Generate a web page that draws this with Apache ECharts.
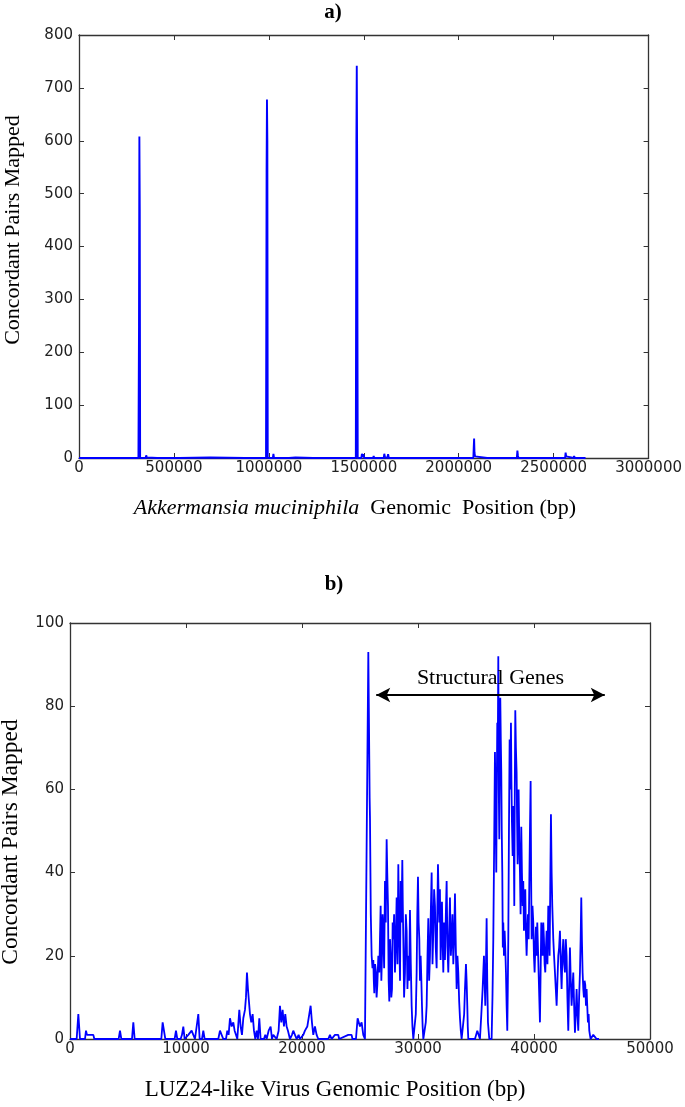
<!DOCTYPE html>
<html><head><meta charset="utf-8">
<script src="https://cdn.jsdelivr.net/npm/echarts@6/dist/echarts.min.js"></script>
<style>html,body{margin:0;padding:0;background:#fff}#c{width:685px;height:1107px}</style>
</head><body><div id="c"></div>
<script>
// ---- Panel a) Akkermansia muciniphila genome: [position bp, concordant pairs]
const akkermansiaCoverage = [
[0,0],[10000,1],[15000,0],[18000,3],[21000,0],[60000,0],[63000,1],[66000,0],[110000,0],[113000,3],[116000,0],
[186000,0],[189000,2],[192000,0],[227000,0],[230000,3],[233000,0],[313000,0],[316000,250],[318000,608],[320000,470],[322000,0],
[351000,0],[354000,5],[357000,1],[360000,0],[412000,0],[415000,2],[418000,0],[530000,0],[533000,1],[536000,0],[690000,1],[693000,0],
[873000,0],[876000,3],[879000,0],[985000,0],[988000,540],[990000,678],[992000,600],[994000,0],[1000000,2],[1003000,0],
[1021000,0],[1024000,8],[1027000,0],[1106000,0],[1109000,2],[1112000,0],[1140000,1],[1143000,0],[1233000,0],[1236000,3],[1239000,0],
[1307000,0],[1310000,3],[1313000,0],[1378000,0],[1381000,2],[1384000,0],[1418000,0],[1421000,3],[1424000,0],
[1458000,0],[1461000,595],[1463000,742],[1465000,560],[1468000,0],[1487000,0],[1490000,8],[1494000,2],[1498000,7],[1502000,0],
[1519000,0],[1522000,3],[1525000,0],[1549000,0],[1552000,4],[1555000,0],[1605000,0],[1608000,8],[1612000,1],[1624000,0],[1628000,7],[1632000,0],
[1700000,0],[1703000,1],[1706000,0],[1800000,0],[1803000,3],[1806000,0],[1865000,0],[1868000,2],[1871000,0],[1901000,0],[1904000,3],[1907000,0],
[1960000,0],[1963000,2],[1966000,0],[2077000,0],[2079000,20],[2081000,37],[2083000,10],[2086000,3],[2090000,0],[2150000,0],[2153000,1],[2156000,0],
[2220000,0],[2223000,2],[2226000,0],[2306000,0],[2309000,14],[2312000,4],[2315000,0],[2400000,0],[2403000,2],[2406000,0],[2440000,0],[2443000,2],[2446000,0],
[2560000,0],[2563000,10],[2566000,3],[2569000,0],[2605000,0],[2608000,4],[2611000,0],[2640000,0],[2643000,2],[2646000,0],[2668000,0]
];
// ---- Panel b) LUZ24-like virus genome: [position bp, concordant pairs]
const luzCoverage = [
[0,0],[575,0],[718,6],[862,0],[1293,0],[1379,2],[1465,1],[1580,1],[2011,1],[2097,0],
[4194,0],[4310,2],[4424,0],[5344,0],[5459,4],[5574,0],[7872,0],[7987,4],[8102,4],[8217,0],
[9021,0],[9136,2],[9251,0],[9538,0],[9653,1],[9768,3],[9883,0],[10199,1],[10343,1],[10486,2],[10630,1],[10774,0],
[10946,0],[11061,6],[11176,0],[11377,0],[11492,2],[11607,0],[12785,0],[12928,2],[13072,1],[13216,0],
[13446,0],[13560,2],[13675,1],[13790,5],[13934,3],[14078,4],[14192,2],[14307,1],[14422,0],
[14509,0],[14595,7],[14710,3],[14825,1],[14940,5],[15083,7],[15169,10],[15255,16],[15342,12],[15428,9],[15514,6],[15629,4],[15744,6],[15859,2],[15974,0],[16089,2],[16204,0],[16319,5],[16433,0],
[16721,0],[16836,1],[16951,0],[17123,2],[17295,3],[17410,0],[17525,1],[17813,0],
[17985,2],[18100,8],[18215,4],[18330,7],[18444,3],[18559,6],[18674,3],[18789,2],[18962,0],
[19134,1],[19249,2],[19393,1],[19536,0],[19709,1],[19824,0],
[20111,1],[20255,2],[20456,3],[20628,6],[20743,8],[20858,4],[20973,1],[21116,3],[21260,1],[21404,0],
[22265,0],[22409,1],[22553,0],[22840,1],[23127,1],[23200,0],[23989,1],[24276,1],[24350,0],
[24650,0],[24794,5],[24995,3],[25139,4],[25282,1],[25426,0],[25573,0],
[25717,93],[25760,80],[25803,67],[25830,58],[25861,53],[25930,30],[26004,20],[26076,17],[26148,19],[26190,14],[26234,11],[26300,18],
[26378,16],[26430,10],[26493,13],[26580,20],[26665,16],[26720,24],[26780,32],[26840,14],[26895,20],[26950,30],[27010,26],[27080,17],
[27154,38],[27220,28],[27297,48],[27350,40],[27412,32],[27470,14],[27527,9],[27585,24],[27642,20],[27700,10],[27757,12],[27815,28],
[27872,24],[27940,30],[28015,16],[28090,24],[28159,34],[28230,18],[28303,42],[28350,30],[28389,24],[28450,14],[28504,38],[28575,28],
[28648,43],[28690,32],[28734,24],[28800,10],[28877,16],[28950,30],[29021,26],[29090,12],[29165,20],[29240,14],[29308,31],[29380,18],
[29452,8],[29520,3],[29596,0],[29739,0],[29810,6],[29883,16],[29940,30],[29998,39],[30055,28],[30113,24],[30170,14],[30228,20],
[30290,14],[30343,8],[30400,3],[30458,0],[30601,0],[30670,4],[30745,8],[30820,20],[30888,29],[30960,14],[31032,20],[31100,30],
[31176,40],[31250,18],[31319,26],[31390,36],[31463,32],[31530,22],[31607,17],[31660,30],[31722,42],[31780,34],[31837,28],[31890,36],
[31951,19],[32010,26],[32066,33],[32120,24],[32181,16],[32250,28],[32325,19],[32400,30],[32469,38],[32540,22],[32612,16],[32690,26],
[32756,34],[32830,20],[32900,24],[32970,30],[33043,18],[33115,24],[33187,35],[33260,22],[33331,12],[33400,20],[33474,16],[33550,9],
[33618,5],[33690,2],[33761,0],[33905,0],[33980,6],[34049,12],[34135,18],[34190,14],[34250,8],[34290,3],[34336,0],[34480,0],
[34911,0],[35112,2],[35341,0],[35460,6],[35571,12],[35686,20],[35740,14],[35801,8],[35860,18],[35916,29],[35970,14],[36031,4],[36146,0],[36347,0],
[36420,10],[36491,24],[36560,45],[36634,69],[36690,55],[36749,40],[36790,60],[36835,76],[36880,70],[36922,92],[36965,60],[37008,48],
[37050,70],[37094,82],[37137,72],[37180,64],[37220,50],[37267,40],[37310,22],[37353,28],[37410,20],[37468,26],[37520,22],[37583,16],
[37640,8],[37697,2],[37740,12],[37784,24],[37840,50],[37899,72],[37955,60],[38013,76],[38055,62],[38099,52],[38160,44],[38214,56],
[38260,46],[38301,32],[38345,60],[38387,79],[38440,70],[38502,64],[38545,52],[38588,42],[38630,50],[38674,60],[38730,48],[38789,40],
[38845,30],[38904,51],[38960,40],[39019,32],[39075,38],[39134,26],[39190,32],[39249,36],[39300,26],[39364,20],[39420,26],[39479,30],
[39540,24],[39594,37],[39650,50],[39709,62],[39750,40],[39795,24],[39870,32],[39938,28],[39995,20],[40053,16],[40110,22],[40168,27],
[40225,20],[40283,28],[40340,22],[40398,16],[40455,10],[40513,4],[40570,16],[40628,28],[40685,24],[40743,20],[40800,28],[40858,24],
[40915,18],[40973,16],[41030,22],[41088,26],[41160,18],[41231,32],[41290,28],[41346,20],[41400,36],[41461,54],[41520,40],[41576,32],
[41620,28],[41662,24],[41730,20],[41806,16],[41880,12],[41950,8],[42020,14],[42093,20],[42165,22],[42237,26],[42310,18],[42380,12],
[42450,20],[42524,24],[42600,18],[42668,16],[42740,24],[42811,20],[42880,10],[42955,2],[43025,12],[43099,22],[43170,14],[43242,8],
[43315,12],[43386,16],[43460,8],[43530,1.5],[43600,6],[43673,12],[43745,6],[43817,2],[43890,10],[43961,16],[44020,24],[44076,34],
[44130,24],[44190,16],[44250,12],[44305,10],[44360,14],[44420,13],[44480,8],[44535,12],[44590,8],[44650,4],[44710,6],[44765,2],
[44820,1],[44880,0],[45110,1],[45397,0],[45600,0]
];
// Annotation: structural genes span (bp) and arrow level (pairs)
const structuralGenesSpan = [26400, 46100];
const structuralGenesLevel = 82.7;

const axisA = {xMin:0, xMax:3000000, xStep:500000, yMin:0, yMax:800, yStep:100};
const axisB = {xMin:0, xMax:50000, xStep:10000, yMin:0, yMax:100, yStep:20};

const chart = echarts.init(document.getElementById('c'), null, {renderer:'canvas'});
const LINE = '#333';
const tickFont = {fontFamily:'"DejaVu Sans"', fontSize:15, color:'#222', formatter:(v)=>String(v)};
function xAx(grid, r, top){
  return {type:'value', gridIndex:grid, min:r.xMin, max:r.xMax, interval:r.xStep, position: top?'top':'bottom',
    axisLine:{show:true, onZero:false, lineStyle:{color:LINE, width:1.3}},
    axisTick:{show:true, inside:true, length:5, lineStyle:{color:LINE, width:1}},
    axisLabel:Object.assign({show:!top, margin:3, showMinLabel:true, showMaxLabel:true}, tickFont),
    splitLine:{show:false}};
}
function yAx(grid, r, right){
  return {type:'value', gridIndex:grid, min:r.yMin, max:r.yMax, interval:r.yStep, position: right?'right':'left',
    axisLine:{show:true, onZero:false, lineStyle:{color:LINE, width:1.3}},
    axisTick:{show:true, inside:true, length:5, lineStyle:{color:LINE, width:1}},
    axisLabel:Object.assign({show:!right, margin:6, showMinLabel:true, showMaxLabel:true}, tickFont),
    splitLine:{show:false}};
}
const serif = '"Liberation Serif", "Times New Roman", serif';
chart.setOption({
  animation:false,
  backgroundColor:'#fff',
  grid:[
    {left:79, right:35, top:35, bottom:649},
    {left:70, right:35, top:623, bottom:68}
  ],
  xAxis:[xAx(0,axisA,false), xAx(0,axisA,true), xAx(1,axisB,false), xAx(1,axisB,true)],
  yAxis:[yAx(0,axisA,false), yAx(0,axisA,true), yAx(1,axisB,false), yAx(1,axisB,true)],
  series:[
    {type:'line', xAxisIndex:0, yAxisIndex:0, data:akkermansiaCoverage, showSymbol:false, symbol:'none',
      lineStyle:{color:'#0000ff', width:1.9}, itemStyle:{color:'#0000ff'}},
    {type:'line', xAxisIndex:2, yAxisIndex:2, data:luzCoverage, showSymbol:false, symbol:'none',
      lineStyle:{color:'#0000ff', width:1.8}, itemStyle:{color:'#0000ff'},
      markLine:{silent:true, symbol:['arrow','arrow'], symbolSize:[11,14],
        lineStyle:{color:'#000', width:2, type:'solid'},
        label:{show:true, position:'insideMiddleTop', formatter:'Structural Genes', color:'#000', fontFamily:serif, fontSize:22, distance:6},
        data:[[{coord:[structuralGenesSpan[0], structuralGenesLevel]},{coord:[structuralGenesSpan[1], structuralGenesLevel]}]]}}
  ],
  graphic:[
    {type:'text', x:333, y:13, style:{text:'a)', font:'bold 21px '+serif, fill:'#000', textAlign:'center', textVerticalAlign:'middle'}},
    {type:'text', x:334, y:585, style:{text:'b)', font:'bold 21px '+serif, fill:'#000', textAlign:'center', textVerticalAlign:'middle'}},
    {type:'text', x:13, y:230, rotation:Math.PI/2, style:{text:'Concordant Pairs Mapped', font:'22px '+serif, fill:'#000', textAlign:'center', textVerticalAlign:'middle'}},
    {type:'text', x:11, y:842, rotation:Math.PI/2, style:{text:'Concordant Pairs Mapped', font:'23.5px '+serif, fill:'#000', textAlign:'center', textVerticalAlign:'middle'}},
    {type:'text', x:355, y:508, style:{text:'{i|Akkermansia muciniphila}{n|  Genomic  Position (bp)}', textAlign:'center', textVerticalAlign:'middle',
      rich:{i:{fontStyle:'italic', fontFamily:serif, fontSize:22, fill:'#000'}, n:{fontFamily:serif, fontSize:22, fill:'#000'}}}},
    {type:'text', x:335, y:1090, style:{text:'LUZ24-like Virus Genomic Position (bp)', font:'23px '+serif, fill:'#000', textAlign:'center', textVerticalAlign:'middle'}}
  ]
});
</script></body></html>
